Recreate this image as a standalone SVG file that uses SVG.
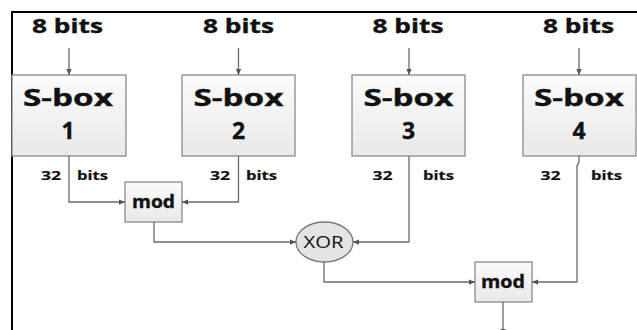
<svg xmlns="http://www.w3.org/2000/svg" width="637" height="330" viewBox="0 0 637 330">
<style>
.t{font-family:"Open Sans","Liberation Sans",sans-serif;font-weight:bold;fill:#111;stroke:#111;stroke-width:0.35;text-anchor:middle}
.in{font-size:19px}
.sb{font-size:23px}
.lb{font-size:13px;stroke-width:0.2}
.md{font-size:18px}
.box{fill:url(#g);stroke:#8a8a8a;stroke-width:1.3}
.c{fill:none;stroke:#6a6a6a;stroke-width:1.3}
</style>
<defs>
<linearGradient id="g" x1="0" y1="0" x2="0" y2="1">
<stop offset="0" stop-color="#fbfbfb"/>
<stop offset="1" stop-color="#e9e9e9"/>
</linearGradient>
<marker id="ah" viewBox="0 0 8 8" refX="8" refY="4" markerWidth="6" markerHeight="6" markerUnits="userSpaceOnUse" orient="auto">
<path d="M0,0.5 L8,4 L0,7.5 Z" fill="#555"/>
</marker>
</defs>
<rect width="637" height="330" fill="#fff"/>
<path d="M12,330 V12 H637" fill="none" stroke="#000" stroke-width="2"/>
<g id="in1"><text class="t in" x="67.5" y="33" textLength="71" lengthAdjust="spacingAndGlyphs">8 bits</text></g>
<g id="in2"><text class="t in" x="238.5" y="33" textLength="71" lengthAdjust="spacingAndGlyphs">8 bits</text></g>
<g id="in3"><text class="t in" x="408" y="33" textLength="71" lengthAdjust="spacingAndGlyphs">8 bits</text></g>
<g id="in4"><text class="t in" x="578.5" y="33" textLength="71" lengthAdjust="spacingAndGlyphs">8 bits</text></g>
<g id="sbox1"><rect class="box" x="12" y="75" width="114" height="81"/><text class="t sb" x="68" y="106" textLength="90" lengthAdjust="spacingAndGlyphs">S-box</text><text class="t sb" x="68" y="139">1</text></g>
<g id="sbox2"><rect class="box" x="182" y="75" width="113" height="81"/><text class="t sb" x="238.5" y="106" textLength="90" lengthAdjust="spacingAndGlyphs">S-box</text><text class="t sb" x="238.5" y="139">2</text></g>
<g id="sbox3"><rect class="box" x="352" y="75" width="113" height="81"/><text class="t sb" x="408.5" y="106" textLength="90" lengthAdjust="spacingAndGlyphs">S-box</text><text class="t sb" x="408.5" y="139">3</text></g>
<g id="sbox4"><rect class="box" x="523" y="75" width="113" height="81"/><text class="t sb" x="579" y="106" textLength="90" lengthAdjust="spacingAndGlyphs">S-box</text><text class="t sb" x="579" y="139">4</text></g>
<g id="labels">
<text class="t lb" x="51" y="180" textLength="20" lengthAdjust="spacingAndGlyphs">32</text>
<text class="t lb" x="92.5" y="180" textLength="31" lengthAdjust="spacingAndGlyphs">bits</text>
<text class="t lb" x="220" y="180" textLength="20" lengthAdjust="spacingAndGlyphs">32</text>
<text class="t lb" x="261.5" y="180" textLength="31" lengthAdjust="spacingAndGlyphs">bits</text>
<text class="t lb" x="382.5" y="180" textLength="20" lengthAdjust="spacingAndGlyphs">32</text>
<text class="t lb" x="438.5" y="180" textLength="31" lengthAdjust="spacingAndGlyphs">bits</text>
<text class="t lb" x="550.5" y="180" textLength="20" lengthAdjust="spacingAndGlyphs">32</text>
<text class="t lb" x="606.5" y="180" textLength="31" lengthAdjust="spacingAndGlyphs">bits</text>
</g>
<g id="mod1"><rect class="box" x="125" y="182" width="57" height="40"/><text class="t md" x="153.5" y="207.5" textLength="43" lengthAdjust="spacingAndGlyphs">mod</text></g>
<g id="xor"><ellipse cx="324.5" cy="242" rx="28.5" ry="20" fill="#e4e4e4" stroke="#7a7a7a" stroke-width="1.3"/><text x="323.5" y="247.5" font-family="Open Sans,Liberation Sans,sans-serif" font-size="16" fill="#111" text-anchor="middle" textLength="40" lengthAdjust="spacingAndGlyphs">XOR</text></g>
<g id="mod2"><rect class="box" x="475" y="262" width="57" height="40"/><text class="t md" x="503" y="287.5" textLength="44" lengthAdjust="spacingAndGlyphs">mod</text></g>
<g id="connectors">
<path class="c" d="M69,48 V75" marker-end="url(#ah)"/>
<path class="c" d="M238.5,48 V75" marker-end="url(#ah)"/>
<path class="c" d="M409,48 V75" marker-end="url(#ah)"/>
<path class="c" d="M579,48 V75" marker-end="url(#ah)"/>
<path class="c" d="M69,156 V202 H125" marker-end="url(#ah)"/>
<path class="c" d="M238.5,156 V202 H182" marker-end="url(#ah)"/>
<path class="c" d="M154,222 V242 H296" marker-end="url(#ah)"/>
<path class="c" d="M409,156 V242 H353" marker-end="url(#ah)"/>
<path class="c" d="M324,262 V282 H475" marker-end="url(#ah)"/>
<path class="c" d="M579,156 V162 L577,166 V282 H532" marker-end="url(#ah)"/>
<path class="c" d="M503,302 V335" marker-end="url(#ah)"/>
</g>
</svg>
